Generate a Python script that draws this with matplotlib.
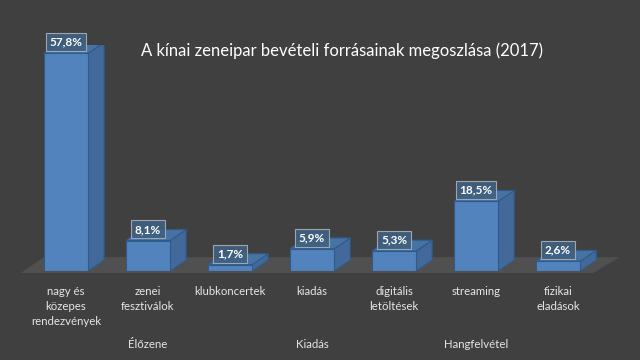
import matplotlib
matplotlib.use('Agg')
from matplotlib import pyplot as plt
from matplotlib.patches import Polygon

BG = '#404040'
FLOOR = '#505050'
FRONT = '#5283bd'
SIDE = '#42699a'
TOP = '#4672a4'
EDGE = '#2f5b8c'
TXT = '#e6e6e6'

categories = ['nagy és\nközepes\nrendezvények', 'zenei\nfesztiválok', 'klubkoncertek',
              'kiadás', 'digitális\nletöltések', 'streaming', 'fizikai\neladások']
values = [57.8, 8.1, 1.7, 5.9, 5.3, 18.5, 2.6]
groups = ['Élőzene', 'Kiadás', 'Hangfelvétel']
group_members = [(0, 2), (3, 3), (4, 6)]
title = 'A kínai zeneipar bevételi forrásainak megoszlása (2017)'

WIDTH = 0.54
DX = 0.195   # depth in category units
DY = 2.9     # depth in percent units

fig = plt.figure(figsize=(6.4, 3.6), dpi=100, facecolor=BG)
ax = fig.add_axes([0.039, 0.247, 0.897, 0.628])
ax.set_facecolor(BG)
ax.set_xlim(-0.5, len(values) - 0.5)
ax.set_ylim(0, 60)
for s in ax.spines.values():
    s.set_visible(False)
ax.set_yticks([])

# floor
n = len(values)
floor = Polygon([(-0.55, -0.5), (n - 0.57, -0.5), (n - 0.25, 3.7), (-0.27, 3.7)],
                closed=True, facecolor=FLOOR, edgecolor='none', zorder=0, clip_on=False)
ax.add_patch(floor)

bars = ax.bar(range(n), values, width=WIDTH, color=FRONT, edgecolor=EDGE,
              linewidth=0.8, zorder=3)
for i, v in enumerate(values):
    x0, x1 = i - WIDTH / 2, i + WIDTH / 2
    side = Polygon([(x1, 0), (x1 + DX, DY), (x1 + DX, v + DY), (x1, v)],
                   facecolor=SIDE, edgecolor=EDGE, linewidth=0.8, zorder=2)
    top = Polygon([(x0, v), (x1, v), (x1 + DX, v + DY), (x0 + DX, v + DY)],
                  facecolor=TOP, edgecolor=EDGE, linewidth=0.8, zorder=2)
    ax.add_patch(side)
    ax.add_patch(top)
    ax.annotate(f'{v:.1f}%'.replace('.', ','), (i, v), xytext=(0, 8),
                textcoords='offset points', ha='center', va='center',
                color='white', fontsize=8.5, fontweight='bold', family='Lato',
                zorder=5,
                bbox=dict(boxstyle='square,pad=0.3', facecolor='#3f6080',
                          edgecolor='#a8afb8', linewidth=0.8, alpha=0.9))

ax.set_xticks(range(n))
ax.set_xticklabels(categories, color=TXT, fontsize=8.2, family='Lato',
                   linespacing=1.4)
ax.tick_params(axis='x', length=0, pad=11)

for g, (a, b) in zip(groups, group_members):
    ax.text((a + b) / 2, -0.325, g, transform=ax.get_xaxis_transform(),
            ha='center', va='center', color=TXT, fontsize=8.2, family='Lato')

fig.text(0.535, 0.858, title, ha='center', va='center', color='white',
         fontsize=12, family='Lato')

fig.savefig('out.png', dpi=100, facecolor=BG)
